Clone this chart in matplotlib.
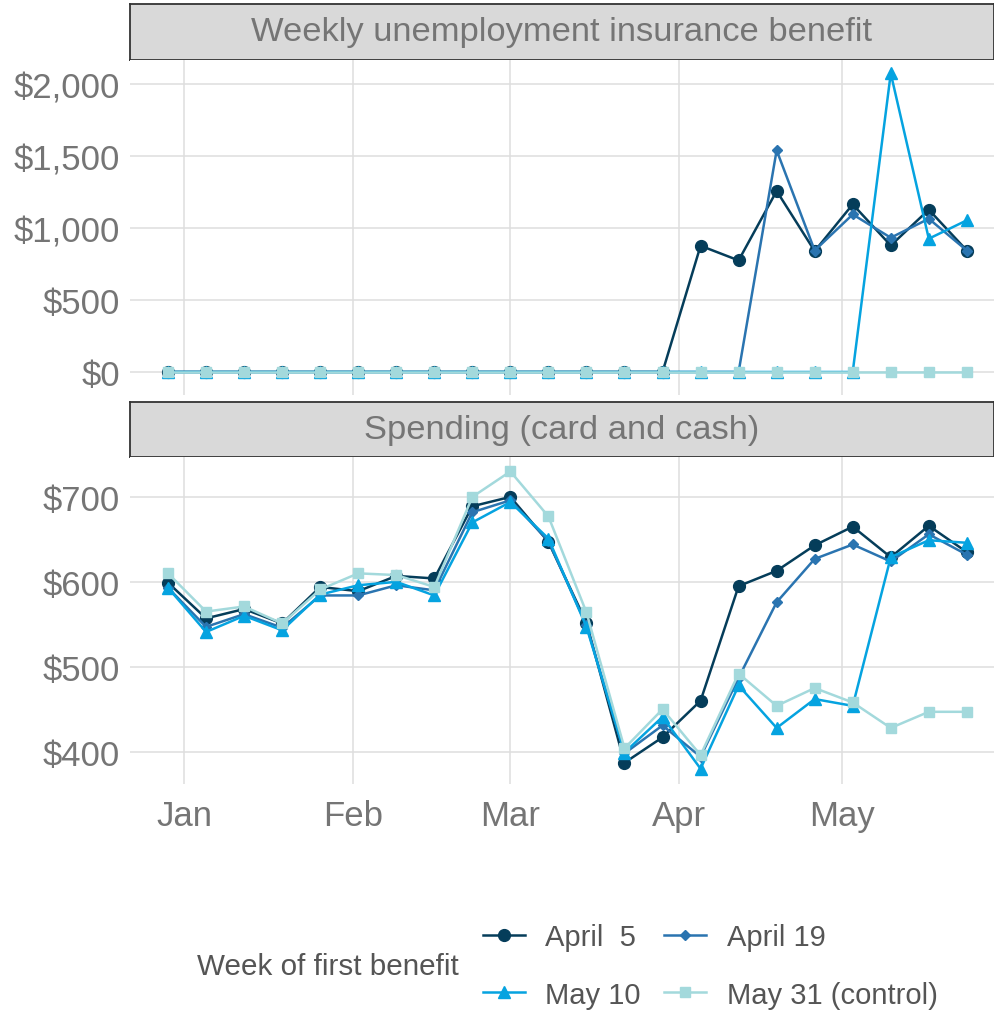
import matplotlib
matplotlib.use('Agg')
import matplotlib.pyplot as plt
import matplotlib.dates as mdates
from matplotlib.ticker import FuncFormatter
import numpy as np

plt.rcParams['font.family'] = ['Liberation Sans', 'DejaVu Sans']

# weekly dates (week starting Sunday)
weeks = np.arange(np.datetime64('2019-12-29'), np.datetime64('2020-05-25'), np.timedelta64(7, 'D'))

series = ['April  5', 'April 19', 'May 10', 'May 31 (control)']
colors = ['#053d5a', '#2a74b0', '#05a3e0', '#a3d9dc']
markers = ['o', 'D', '^', 's']
msizes = [8.5, 5, 8.5, 7.5]

# weekly unemployment insurance benefit
ui_apr5 = [0, 0, 0, 0, 0, 0, 0, 0, 0, 0, 0, 0, 0, 0, 878, 776, 1259, 841, 1166, 880, 1129, 845]
ui_apr19 = [0, 0, 0, 0, 0, 0, 0, 0, 0, 0, 0, 0, 0, 0, 0, 0, 1542, 845, 1096, 934, 1066, 845]
ui_may10 = [0, 0, 0, 0, 0, 0, 0, 0, 0, 0, 0, 0, 0, 0, 0, 0, 0, 0, 0, 2077, 927, 1055]
ui_may31 = [0] * 22

# spending (card and cash)
sp_apr5 = [599, 557, 568, 551, 594, 589, 607, 604, 689, 700, 647, 552, 387, 417, 460, 595, 613, 643, 665, 629, 666, 635]
sp_apr19 = [593, 547, 562, 546, 584, 584, 596, 590, 682, 696, 648, 549, 398, 431, 394, 487, 576, 627, 644, 624, 656, 632]
sp_may10 = [593, 541, 560, 543, 585, 596, 600, 584, 670, 694, 651, 547, 399, 441, 380, 478, 428, 462, 454, 629, 649, 646]
sp_may31 = [610, 565, 571, 551, 591, 610, 608, 594, 700, 730, 677, 564, 404, 450, 396, 492, 454, 475, 458, 428, 447, 447]

ui = [ui_apr5, ui_apr19, ui_may10, ui_may31]
sp = [sp_apr5, sp_apr19, sp_may10, sp_may31]

W, H = 995, 1012
fig = plt.figure(figsize=(W / 100, H / 100), dpi=100)


def box(left, top, right, bottom):
    return [left / W, 1 - bottom / H, (right - left) / W, (bottom - top) / H]


def strip(top, bottom, text):
    s = fig.add_axes(box(130, top, 994, bottom))
    s.set_facecolor('#d9d9d9')
    s.set_xticks([])
    s.set_yticks([])
    for sp_ in s.spines.values():
        sp_.set_color('#333333')
        sp_.set_linewidth(1.3)
    s.text(0.5, 0.5, text, ha='center', va='center', fontsize=24.8, color='#757575',
           transform=s.transAxes)


def panel(ax, data, ylim, yticks):
    # later groups drawn on top, like the original
    for i in range(4):
        ax.plot(weeks, data[i], color=colors[i], marker=markers[i], markersize=msizes[i],
                linewidth=1.8, label=series[i], zorder=3 + i * 0.1)
    ax.set_ylim(*ylim)
    ax.set_yticks(yticks)
    ax.yaxis.set_major_formatter(FuncFormatter(lambda v, p: '${:,.0f}'.format(v)))
    ax.set_xlim(np.datetime64('2019-12-22'), np.datetime64('2020-05-29'))
    ax.set_xticks([np.datetime64('2020-0%d-01' % m) for m in range(1, 6)])
    ax.xaxis.set_major_formatter(mdates.DateFormatter('%b'))
    ax.grid(True, color='#dedede', linewidth=1.1)
    ax.set_axisbelow(True)
    for s in ax.spines.values():
        s.set_visible(False)
    ax.tick_params(length=0, labelsize=25, labelcolor='#757575', pad=7)


strip(5, 61, 'Weekly unemployment insurance benefit')
ax1 = fig.add_axes(box(130, 61, 994, 396))
panel(ax1, ui, (-160, 2170), [0, 500, 1000, 1500, 2000])
ax1.set_xticklabels([])

strip(403, 458, 'Spending (card and cash)')
ax2 = fig.add_axes(box(130, 458, 994, 785))
panel(ax2, sp, (362, 747), [400, 500, 600, 700])
ax2.tick_params(axis='x', pad=11)

# legend: row 1 April 5 / April 19, row 2 May 10 / May 31
h, l = ax2.get_legend_handles_labels()
order = [0, 2, 1, 3]
fig.legend([h[i] for i in order], [l[i] for i in order], ncol=2, frameon=False,
           loc='center left', bbox_to_anchor=(468 / W, 1 - 967 / H),
           fontsize=21, labelcolor='#555555', handlelength=1.45, handletextpad=0.7,
           columnspacing=0.8, labelspacing=1.0, borderpad=0)
fig.text(197 / W, 1 - 967 / H, 'Week of first benefit', fontsize=21.3, color='#555555',
         ha='left', va='center')

fig.savefig('out.png', dpi=100)
